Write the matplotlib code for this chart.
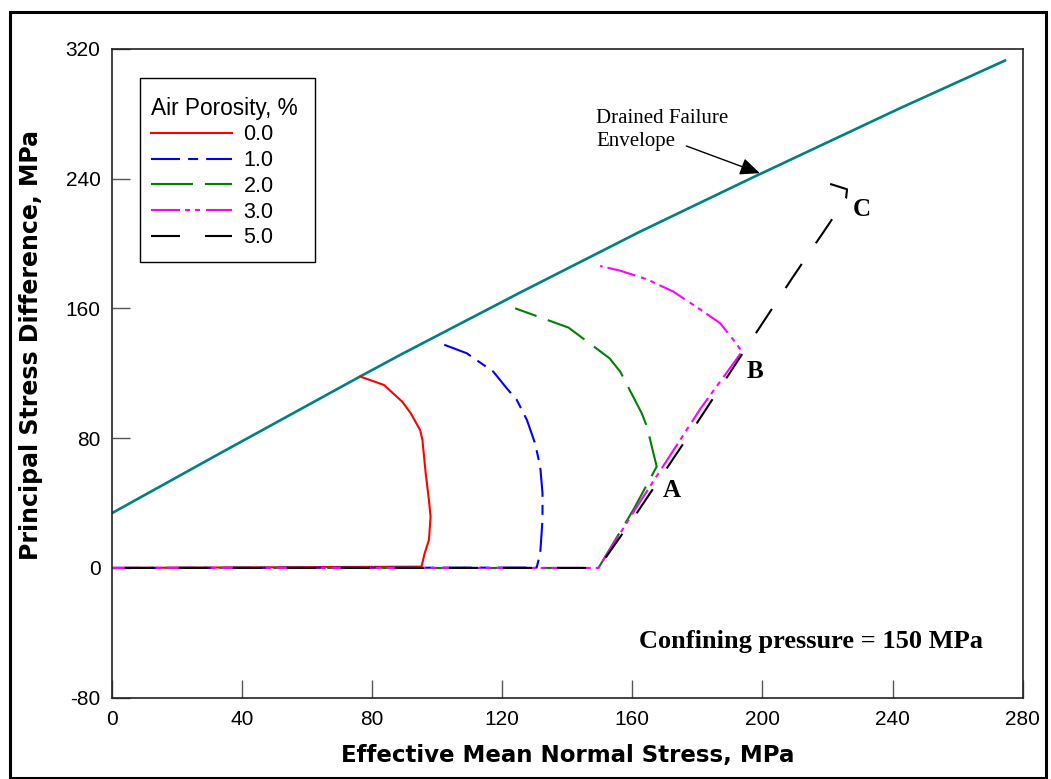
import matplotlib
matplotlib.use("Agg")
import matplotlib.pyplot as plt
from matplotlib.patches import Rectangle
from matplotlib.lines import Line2D

plt.rcParams['font.family'] = ['Liberation Sans', 'DejaVu Sans']
plt.rcParams['lines.scale_dashes'] = False
plt.rcParams['axes.unicode_minus'] = False

# drained failure envelope
env_x = [0, 33.3, 76.3, 88.6, 125.5, 162.4, 196.2, 242.3, 274.9]
env_y = [33.7, 70.7, 118.0, 131.3, 169.8, 207.4, 240.0, 283.5, 313.2]

# stress paths for each air porosity
por_labels = ['0.0', '1.0', '2.0', '3.0', '5.0']

p0_x = [0, 95.2, 96.2, 97.5, 98.0, 97.5, 96.5, 95.5, 94.8, 91.9, 89.3, 83.7, 76.4]
p0_y = [0, 0.8, 9.1, 17.3, 31.6, 41.7, 58.4, 78.9, 85.0, 95.4, 102.5, 112.8, 118.0]

p1_x = [0, 130.6, 131.7, 132.4, 132.4, 131.7, 130.1, 127.6, 124.5, 121.4, 117.3, 109.1, 100.9]
p1_y = [0, 0.2, 9.1, 29.6, 46.1, 62.5, 76.9, 91.3, 103.6, 110.8, 121.0, 132.4, 138.6]

p2_x = [0, 149.6, 160.3, 167.5, 166.0, 164.5, 162.9, 156.3, 153.0, 140.4, 124.0]
p2_y = [0, 0, 35.8, 62.5, 74.8, 87.1, 95.4, 121.0, 129.3, 148.2, 160.1]

p3_x = [0, 149.6, 161.4, 180.9, 193.7, 191.1, 187.0, 180.8, 172.6, 164.5, 156.3, 150.1]
p3_y = [0, 0, 37.8, 98.1, 133.4, 140.6, 150.9, 159.5, 170.4, 178.0, 183.3, 186.2]

p5_x = [0, 149.6, 160.3, 176.8, 198.3, 209.1, 220.3, 225.7, 226.0, 220.8]
p5_y = [0, 0, 30.6, 80.0, 145.7, 178.6, 211.7, 228.0, 233.5, 236.8]

colors = ['red', 'blue', 'green', 'magenta', 'black']
dash_seqs = [None, (20.9, 5.8, 7.2, 5.8), (30.2, 8.6),
             (20.9, 3.6, 3.6, 3.6, 3.6, 4.3), (20.9, 18)]
offsets = [0, 0, 0, 0, 29.5]

fig = plt.figure(figsize=(10.51, 7.79), dpi=100)
ax = fig.add_axes([0.1063, 0.1044, 0.8668, 0.8327])

ax.plot(env_x, env_y, color='#008080', lw=1.9, solid_capstyle='butt')

paths = [(p0_x, p0_y), (p1_x, p1_y), (p2_x, p2_y), (p3_x, p3_y), (p5_x, p5_y)]
handles = []
for (xs, ys), c, d, off in zip(paths, colors, dash_seqs, offsets):
    ls = '-' if d is None else (off, d)
    ax.plot(xs, ys, color=c, lw=1.5, linestyle=ls)
    handles.append(Line2D([], [], color=c, lw=1.5, linestyle='-' if d is None else (0, d)))

ax.set_xlim(0, 280)
ax.set_ylim(-80, 320)
ax.set_xticks(range(0, 281, 40))
ax.set_yticks(range(-80, 321, 80))
ax.tick_params(axis='both', direction='in', length=13, width=1, color='#555555',
               labelsize=15)
ax.tick_params(axis='x', pad=9)
ax.tick_params(axis='y', pad=8)
for s in ax.spines.values():
    s.set_color('#222222')
    s.set_linewidth(1.2)

ax.set_xlabel('Effective Mean Normal Stress, MPa', fontsize=16.5, fontweight='bold',
              family='DejaVu Sans', labelpad=11)
ax.set_ylabel('Principal Stress Difference, MPa', fontsize=17, fontweight='bold',
              family='DejaVu Sans')
ax.yaxis.set_label_coords(-0.0754, 0.544)

# legend without its own frame; box drawn separately
leg = ax.legend(handles, por_labels, title='Air Porosity, %', loc='upper left',
                bbox_to_anchor=(151 / 1051, 1 - 96.75 / 779),
                bbox_transform=fig.transFigure, borderaxespad=0, borderpad=0,
                fontsize=15.5, title_fontsize=16.3, handlelength=3.75,
                handletextpad=0.55, labelspacing=0.22, frameon=False,
                alignment='left')
fig.patches.append(Rectangle((140 / 1051, 1 - 262 / 779), 175 / 1051, 184 / 779,
                             transform=fig.transFigure, fill=False,
                             edgecolor='black', lw=1.0))

serif = 'Liberation Serif'
ax.text(172.2, 47.5, 'A', family=serif, fontweight='bold', fontsize=18, ha='center', va='center')
ax.text(197.8, 120.9, 'B', family=serif, fontweight='bold', fontsize=18, ha='center', va='center')
ax.text(230.6, 220.8, 'C', family=serif, fontweight='bold', fontsize=18, ha='center', va='center')
ax.text(148.9, 270, 'Drained Failure\nEnvelope', family=serif, fontsize=15,
        ha='left', va='center', linespacing=1.25)
ax.annotate('', xy=(199.2, 243.4), xytext=(176.6, 260.2),
            arrowprops=dict(arrowstyle='-|>,head_length=0.8,head_width=0.35',
                            color='black', lw=1, mutation_scale=15, shrinkA=0, shrinkB=0))
ax.text(215.0, -45.6, 'Confining pressure = 150 MPa', family=serif, fontweight='bold',
        fontsize=19, ha='center', va='center')

fig.patches.append(Rectangle((9.5 / 1051, 1 - 777.5 / 779), (1046 - 9.5) / 1051,
                             (777.5 - 11.5) / 779, transform=fig.transFigure,
                             fill=False, edgecolor='black', lw=2.2))

fig.savefig('out.png', dpi=100)
